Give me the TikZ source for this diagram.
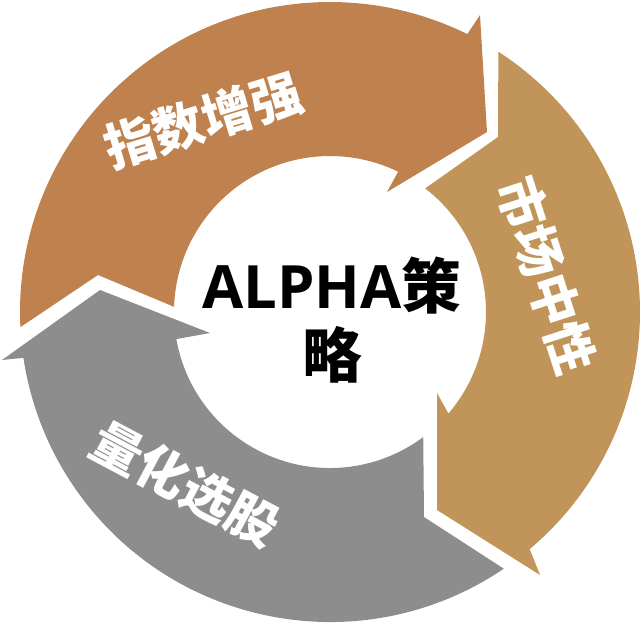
\documentclass[tikz,border=0pt]{standalone}
\usepackage{fontspec}
\setmainfont{Open Sans}
\newfontfamily\cjk{Noto Sans CJK SC}
\definecolor{M}{RGB}{191, 130, 78}
\definecolor{D}{RGB}{193, 148, 90}
\definecolor{G}{RGB}{141, 141, 141}
\tikzset{etiqueta/.style={text=white, font=\cjk\bfseries\fontsize{29}{30}\selectfont, inner sep=0pt}}

\begin{document}
\begin{tikzpicture}[x=0.02cm, y=0.02cm]
	\useasboundingbox (-330,-315) rectangle (312,312);

	%Flecha superior (indice)
	\fill[color=M] (182.8:310) arc[start angle=182.8, end angle=63.7, radius=310]
		-- (150,297) -- (157,180) -- (57,120)
		-- (64.1:156) arc[start angle=64.1, end angle=178.1, radius=156]
		-- (-232,37) -- cycle;

	%Flecha derecha (mercado)
	\fill[color=D] (57.1:310) arc[start angle=57.1, end angle=-49.9, radius=310]
		-- (210,-263) -- (107,-198) -- (107,-81)
		-- (-40.6:156) arc[start angle=-40.6, end angle=52.4, radius=156]
		-- (168,175) -- cycle;

	%Flecha inferior (cuantitativo)
	\fill[color=G] (-55.9:310) arc[start angle=-55.9, end angle=-171.5, radius=310]
		-- (-328,-48) -- (-230,22) -- (-120,-21)
		-- (-170:156) arc[start angle=-170, end angle=-53.3, radius=156]
		-- (94,-205) -- cycle;

	%Textos de las flechas
	\draw (-127,192) node[etiqueta, rotate=17] (indice) {指数增强};
	\draw (217,37) node[etiqueta, rotate=-72] (mercado) {市场中性};
	\draw (-145,-172) node[etiqueta, rotate=-28] (cuanti) {量化选股};

	%Texto central
	\draw (2,-8) node[align=center, font=\bfseries\fontsize{34}{39}\selectfont] (centro) {ALPHA{\cjk 策}\\{\cjk 略}};
\end{tikzpicture}
\end{document}
